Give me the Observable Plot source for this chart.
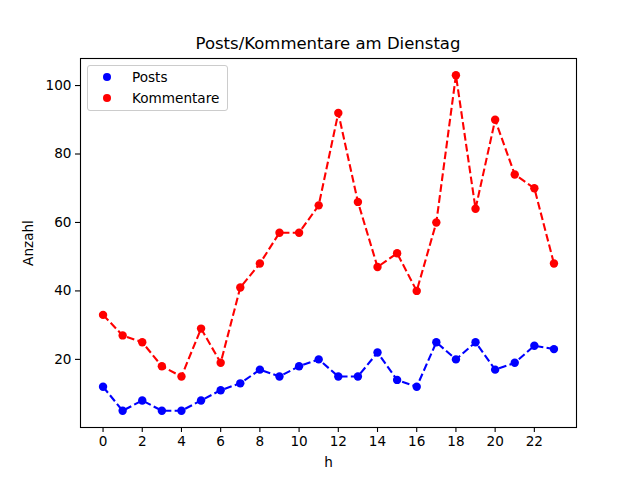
<!DOCTYPE html>
<html>
<head>
<meta charset="utf-8">
<script src="https://cdn.jsdelivr.net/npm/d3@7"></script>
<script src="https://cdn.jsdelivr.net/npm/@observablehq/plot@0.6"></script>
<style>
  html, body { margin: 0; padding: 0; background: #fff; }
  #wrap { position: relative; width: 640px; height: 480px; font-family: "DejaVu Sans", sans-serif; }
  #title { position: absolute; left: 80px; width: 496px; top: 34px; text-align: center; font-size: 16.5px; color: #000; }
  #legend { position: absolute; left: 87px; top: 65px; width: 139px; height: 44px; border: 1px solid #cccccc; border-radius: 3px; background: rgba(255,255,255,0.8); font-size: 13.6px; }
  .item { position: absolute; left: 0; height: 20px; line-height: 20px; }
  .dot { position: absolute; left: 15px; width: 8.4px; height: 8.4px; border-radius: 50%; top: 5.8px; }
  .lab { position: absolute; left: 44px; white-space: nowrap; }
</style>
</head>
<body>
<div id="wrap">
  <div id="chart"></div>
  <div id="title">Posts/Kommentare am Dienstag</div>
  <div id="legend"></div>
</div>
<script>
const hours = d3.range(0, 24);
const posts = [12, 5, 8, 5, 5, 8, 11, 13, 17, 15, 18, 20, 15, 15, 22, 14, 12, 25, 20, 25, 17, 19, 24, 23];
const kommentare = [33, 27, 25, 18, 15, 29, 19, 41, 48, 57, 57, 65, 92, 66, 47, 51, 40, 60, 103, 64, 90, 74, 70, 48];
const seriesNames = ["Posts", "Kommentare"];
const seriesColors = ["#0000ff", "#ff0000"];
const xTicks = [0, 2, 4, 6, 8, 10, 12, 14, 16, 18, 20, 22];
const yTicks = [20, 40, 60, 80, 100];

const rows = [];
[posts, kommentare].forEach((vals, si) => {
  vals.forEach((v, i) => rows.push({h: hours[i], v, s: seriesNames[si]}));
});

const all = posts.concat(kommentare);
const ymin = d3.min(all), ymax = d3.max(all);
const ypad = (ymax - ymin) * 0.05;
const xpad = (hours[hours.length - 1] - hours[0]) * 0.05;

const chart = Plot.plot({
  width: 640,
  height: 480,
  marginLeft: 80,
  marginRight: 64,
  marginTop: 58,
  marginBottom: 53,
  style: {fontFamily: "DejaVu Sans, sans-serif", fontSize: "13.6px", color: "#000", background: "#fff"},
  x: {domain: [hours[0] - xpad, hours[hours.length - 1] + xpad]},
  y: {domain: [ymin - ypad, ymax + ypad]},
  color: {domain: seriesNames, range: seriesColors},
  marks: [
    Plot.axisX({ticks: xTicks, tickSize: 5, tickPadding: 4, tickFormat: d => String(d), strokeWidth: 1.1, fontSize: 13.6, label: "h", labelAnchor: "center", labelArrow: "none", labelOffset: 39}),
    Plot.axisY({ticks: yTicks, tickSize: 5, tickPadding: 4, tickFormat: d => String(d), strokeWidth: 1.1, fontSize: 13.6, label: "Anzahl", labelAnchor: "center", labelArrow: "none", labelOffset: 57}),
    Plot.line(rows, {x: "h", y: "v", z: "s", stroke: "s", strokeWidth: 2.1, strokeDasharray: "7.7,3.3", strokeLinecap: "butt", strokeLinejoin: "round"}),
    Plot.dot(rows, {x: "h", y: "v", fill: "s", r: 4.2}),
    Plot.frame({stroke: "#000", strokeWidth: 1.1})
  ]
});
document.getElementById("chart").appendChild(chart);

const legend = document.getElementById("legend");
seriesNames.forEach((name, i) => {
  const item = document.createElement("div");
  item.className = "item";
  item.style.top = (i === 0 ? 1 : 22) + "px";
  const dot = document.createElement("div");
  dot.className = "dot";
  dot.style.background = seriesColors[i];
  const lab = document.createElement("div");
  lab.className = "lab";
  lab.textContent = name;
  item.appendChild(dot);
  item.appendChild(lab);
  legend.appendChild(item);
});
</script>
</body>
</html>
